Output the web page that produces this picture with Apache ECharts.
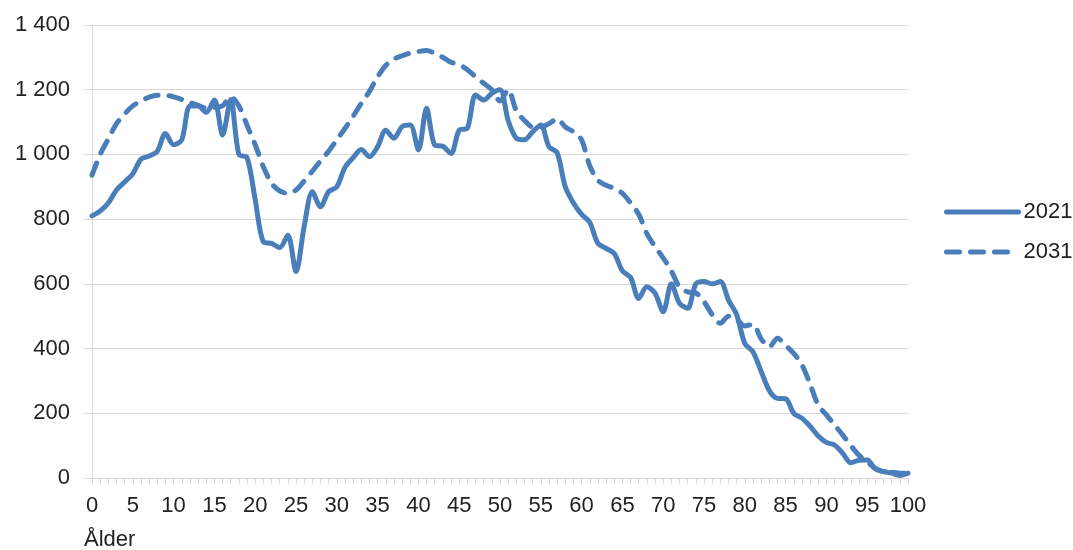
<!DOCTYPE html>
<html>
<head>
<meta charset="utf-8">
<script src="https://cdn.jsdelivr.net/npm/echarts@6/dist/echarts.min.js"></script>
<style>
html,body{margin:0;padding:0;background:#fff;}
#chart{width:1073px;height:550px;}
</style>
</head>
<body>
<div id="chart"></div>
<script>
// Age 0..100
const ages = Array.from({length: 101}, (_, i) => i);
const seriesNames = ['2021', '2031'];
const yTicks = [0, 200, 400, 600, 800, 1000, 1200, 1400];
const xTitle = 'Ålder';

const values2021 = [
  810, 825, 850, 890, 915, 940, 985, 995, 1010, 1065,
  1030, 1045, 1150, 1150, 1130, 1168, 1060, 1170, 1000, 990,
  860, 730, 725, 712, 750, 638, 777, 885, 838, 885,
  900, 960, 990, 1015, 993, 1024, 1075, 1050, 1086, 1091,
  1014, 1143, 1029, 1025, 1003, 1075, 1081, 1184, 1168, 1189,
  1200, 1105, 1050, 1045, 1070, 1091, 1024, 1005, 900, 850,
  815, 790, 725, 710, 694, 640, 620, 555, 591, 571,
  514, 600, 540, 525, 600, 607, 600, 607, 550, 505,
  416, 390, 330, 270, 246, 245, 200, 185, 160, 130,
  110, 102, 76, 47, 55, 56, 28, 20, 15, 8,
  15
];
const values2031 = [
  936, 1000, 1048, 1095, 1125, 1150, 1165, 1177, 1183, 1183,
  1178, 1170, 1160, 1152, 1143, 1145, 1150, 1178, 1150, 1090,
  1030, 962, 911, 887, 880, 890, 918, 948, 980, 1010,
  1045, 1080, 1118, 1158, 1195, 1240, 1275, 1295, 1305, 1313,
  1318, 1321, 1313, 1300, 1285, 1277, 1262, 1240, 1220, 1200,
  1165, 1200, 1135, 1105, 1085, 1085, 1095, 1110, 1085, 1070,
  1045, 965, 920, 905, 895, 880, 850, 815, 755, 715,
  680, 640, 590, 575, 572, 545, 505, 478, 500, 490,
  470, 475, 430, 405, 432, 410, 385, 350, 290, 225,
  195, 164, 133, 100, 70, 50, 30, 20, 18, 15,
  15
];

const blue = '#4a7ebb';
const font = '"Liberation Sans", Arial, sans-serif';
const grey = '#d9d9d9';
const dash = [13, 11];

function fmt(v) {
  return String(v).replace(/\B(?=(\d{3})+(?!\d))/g, ' ');
}

const chart = echarts.init(document.getElementById('chart'));
chart.setOption({
  animation: false,
  backgroundColor: '#fff',
  textStyle: {fontFamily: font},
  grid: {left: 92, right: 165, top: 25, bottom: 72, containLabel: false},
  legend: {
    orient: 'vertical',
    left: 939,
    top: 196,
    itemWidth: 72,
    itemHeight: 14,
    itemGap: 18,
    data: seriesNames,
    itemStyle: {opacity: 0},
    lineStyle: {width: 5, cap: 'round'},
    textStyle: {fontSize: 22, color: '#222', fontFamily: font}
  },
  xAxis: {
    type: 'value',
    min: 0,
    max: 100,
    interval: 5,
    axisLine: {show: true, lineStyle: {color: grey, width: 1}},
    axisTick: {show: true, length: 6, lineStyle: {color: grey}},
    minorTick: {show: true, splitNumber: 5, length: 6, lineStyle: {color: grey}},
    splitLine: {show: false},
    axisLabel: {fontSize: 22, color: '#222', margin: 17, fontFamily: font}
  },
  yAxis: {
    type: 'value',
    min: 0,
    max: 1400,
    interval: 200,
    axisLine: {show: true, lineStyle: {color: grey, width: 1}},
    axisTick: {show: true, length: 8, lineStyle: {color: grey}},
    splitLine: {show: true, lineStyle: {color: grey, width: 1}},
    axisLabel: {fontSize: 22, color: '#222', margin: 22, fontFamily: font, formatter: fmt}
  },
  graphic: [{
    type: 'text',
    left: 84,
    top: 529,
    style: {text: xTitle, fontSize: 22, fill: '#222', fontFamily: font}
  }],
  series: [
    {
      name: seriesNames[0],
      type: 'line',
      data: ages.map((a, i) => [a, values2021[i]]),
      smooth: 0.3,
      symbol: 'none',
      lineStyle: {color: blue, width: 5, cap: 'round', join: 'round'},
      itemStyle: {color: blue}
    },
    {
      name: seriesNames[1],
      type: 'line',
      data: ages.map((a, i) => [a, values2031[i]]),
      smooth: 0.3,
      symbol: 'none',
      lineStyle: {color: blue, width: 5, type: dash, cap: 'round', join: 'round'},
      itemStyle: {color: blue}
    }
  ]
});
</script>
</body>
</html>
